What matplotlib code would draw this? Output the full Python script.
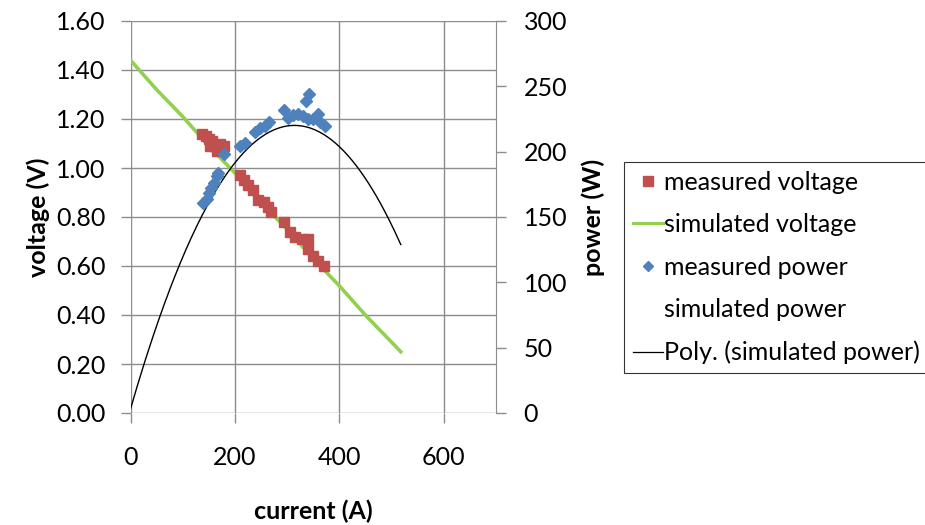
import numpy as np
import matplotlib
matplotlib.use('Agg')
import matplotlib.pyplot as plt
from matplotlib.lines import Line2D

# measured voltage (red squares)
mv_current = [138, 145, 151, 157, 152, 160, 165, 179, 171,
              210, 218, 226, 235, 245, 255, 264, 269,
              294, 306, 315, 328, 341, 341, 350, 360, 371]
mv_voltage = [1.14, 1.13, 1.12, 1.11, 1.09, 1.09, 1.07, 1.09, 1.10,
              0.97, 0.95, 0.93, 0.91, 0.87, 0.86, 0.84, 0.82,
              0.78, 0.74, 0.72, 0.71, 0.71, 0.67, 0.64, 0.62, 0.60]

# measured power (blue diamonds)
mp_current = [139, 146, 151, 155, 160, 165, 168, 179,
              210, 219, 239, 248, 258, 266,
              294, 302, 312, 322, 331, 341, 350, 359, 363, 373, 336, 342]
mp_power = [161, 164, 168, 172, 176, 181, 184, 198,
            204, 207, 215, 218, 220, 223,
            232, 226, 228, 229, 227, 225, 225, 229, 223, 220, 239, 244]

# simulated curves
sim_current = [0, 50, 100, 150, 200, 250, 300, 350, 400, 450, 500, 518]
sim_voltage = [1.44, 1.32, 1.21, 1.09, 0.98, 0.86, 0.75, 0.63, 0.52, 0.40, 0.29, 0.25]
sim_power = [3, 67, 119, 161, 191, 211, 220, 217, 204, 180, 144, 129]

RED = '#C0504D'
GREEN = '#92D050'
BLUE = '#4F81BD'
GRID = '#8C8C8C'

plt.rcParams['font.family'] = ['Lato', 'DejaVu Sans']
FS = 18

fig = plt.figure(figsize=(9.25, 5.25), dpi=100)
ax = fig.add_axes([130.5 / 925, 1 - 413 / 525, (495.7 - 130.5) / 925, (413 - 21) / 525])
ax2 = ax.twinx()

ax.set_xlim(0, 700)
ax.set_ylim(0, 1.6)
ax2.set_ylim(0, 300)
ax.set_xticks([0, 200, 400, 600])
ax.set_yticks(np.arange(0, 1.61, 0.2))
ax.set_yticklabels([f'{v:.2f}' for v in np.arange(0, 1.61, 0.2)])
ax2.set_yticks(np.arange(0, 301, 50))

ax.grid(True, color=GRID, lw=1.0)
ax.set_axisbelow(True)
for a in (ax, ax2):
    for s in a.spines.values():
        s.set_visible(False)
ax2.spines['right'].set_visible(True)
ax2.spines['right'].set_color(GRID)
ax.tick_params(axis='both', colors=GRID, labelcolor='black', labelsize=FS, length=7, width=1)
ax.tick_params(axis='y', pad=11)
ax.tick_params(axis='x', pad=17)
ax2.tick_params(axis='y', colors=GRID, labelcolor='black', labelsize=FS, length=7, width=1, pad=13)

# voltage side
ax.plot(sim_current, sim_voltage, color=GREEN, lw=2.6, zorder=3)
ax.plot(mv_current, mv_voltage, 's', color=RED, ms=7.5, mec=RED, zorder=4)

# power side
ax2.plot(sim_current, sim_power, linestyle='none', marker=None)
coef = np.polyfit(sim_current, sim_power, 2)
xs = np.linspace(sim_current[0], sim_current[-1], 200)
ax2.plot(xs, np.polyval(coef, xs), color='black', lw=1.0, zorder=3)
ax2.plot(mp_current, mp_power, 'D', color=BLUE, ms=6.2, mec=BLUE, zorder=4)

ax.set_ylabel('voltage (V)', fontsize=FS, fontweight='bold', labelpad=4)
ax2.set_ylabel('power (W)', fontsize=FS, fontweight='bold', labelpad=10)
ax.set_xlabel('current (A)', fontsize=FS, fontweight='bold', labelpad=22)

handles = [
    Line2D([], [], linestyle='none', marker='s', color=RED, ms=7),
    Line2D([], [], color=GREEN, lw=2.2),
    Line2D([], [], linestyle='none', marker='D', color=BLUE, ms=5),
    Line2D([], [], linestyle='none'),
    Line2D([], [], color='black', lw=0.9),
]
labels = ['measured voltage', 'simulated voltage', 'measured power',
          'simulated power', 'Poly. (simulated power)']
leg = fig.legend(handles, labels, loc='upper left', bbox_to_anchor=(624 / 925, 1 - 162 / 525),
                 fontsize=FS, frameon=True, fancybox=False, edgecolor='black',
                 handlelength=1.2, handletextpad=0.05, borderpad=0.35, labelspacing=0.78,
                 borderaxespad=0)
leg.get_frame().set_linewidth(0.8)

fig.savefig('out.png', dpi=100)
